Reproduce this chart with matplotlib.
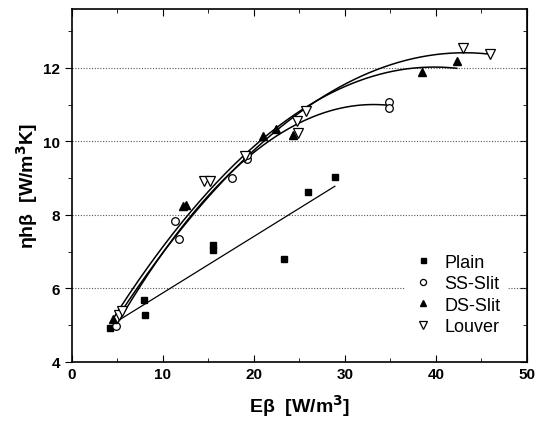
import numpy as np
import matplotlib.pyplot as plt

plt.rcParams['font.family'] = ['Liberation Sans', 'DejaVu Sans']

# measured data points for each fin type
plain_x = [4.2, 7.95, 8.05, 15.5, 15.5, 23.3, 26.0, 28.9]
plain_y = [4.93, 5.68, 5.28, 7.18, 7.05, 6.81, 8.63, 9.04]

ss_x = [4.85, 11.3, 11.8, 17.6, 19.2, 19.2, 34.8, 34.8]
ss_y = [4.98, 7.83, 7.33, 9.0, 9.52, 9.62, 11.07, 10.9]

ds_x = [4.55, 12.2, 12.5, 21.0, 22.4, 24.3, 38.5, 42.3]
ds_y = [5.17, 8.25, 8.27, 10.15, 10.33, 10.18, 11.89, 12.18]

lv_x = [5.2, 5.5, 14.5, 15.2, 19.0, 24.7, 24.9, 25.7, 43.0, 46.0]
lv_y = [5.27, 5.39, 8.93, 8.93, 9.59, 10.54, 10.22, 10.83, 12.55, 12.37]

fig = plt.figure(figsize=(5.37, 4.31), dpi=100)
ax = fig.add_axes([0.134, 0.158, 0.847, 0.819])

ax.plot(plain_x, plain_y, 's', color='black', ms=4.5, label='Plain', zorder=3)
ax.plot(ss_x, ss_y, 'o', mfc='white', mec='black', ms=5.5, mew=0.9, label='SS-Slit', zorder=3)
ax.plot(ds_x, ds_y, '^', color='black', ms=6, label='DS-Slit', zorder=3)
ax.plot(lv_x, lv_y, 'v', mfc='white', mec='black', ms=6.5, mew=0.9, label='Louver', zorder=3)

# linear fit for the plain fin
c = np.polyfit(plain_x, plain_y, 1)
xs = np.linspace(5.3, 28.9, 50)
ax.plot(xs, np.polyval(c, xs), color='black', lw=0.9)

# quadratic fits, first point weighted so the curve starts at it
for xd, yd in [(ss_x, ss_y), (ds_x, ds_y), (lv_x, lv_y)]:
    w = np.ones(len(xd))
    w[0] = 5
    c = np.polyfit(xd, yd, 2, w=w)
    xs = np.linspace(min(xd), max(xd), 200)
    ax.plot(xs, np.polyval(c, xs), color='black', lw=1.1)

ax.set_xlim(0, 50)
ax.set_ylim(4, 13.6)
ax.set_xticks(np.arange(0, 51, 10))
ax.set_xticks(np.arange(5, 50, 10), minor=True)
ax.set_yticks(np.arange(4, 13, 2))
ax.set_yticks(np.arange(5, 14, 2), minor=True)
ax.yaxis.grid(True, which='major', ls=(0, (1, 1.5)), color='#555555', lw=0.8)
ax.set_axisbelow(True)

ax.tick_params(axis='x', which='both', direction='in', top=True, labelsize=11, pad=4)
ax.tick_params(axis='y', which='both', direction='out', labelsize=11)
ax.tick_params(axis='x', which='major', length=5)
ax.tick_params(axis='x', which='minor', length=3)
ax.tick_params(axis='y', which='major', length=5)
ax.tick_params(axis='y', which='minor', length=3)
for lbl in ax.get_xticklabels() + ax.get_yticklabels():
    lbl.set_fontweight('bold')
for s in ax.spines.values():
    s.set_linewidth(1.2)

# inward ticks on the right side
ax2 = ax.secondary_yaxis('right')
ax2.set_yticks(np.arange(4, 13, 2))
ax2.set_yticks(np.arange(5, 14, 2), minor=True)
ax2.tick_params(which='both', direction='in', labelright=False)
ax2.tick_params(which='major', length=5)
ax2.tick_params(which='minor', length=3)

ax.set_xlabel('E\u03b2  [W/m$^\\mathbf{3}$]', fontsize=14, fontweight='bold', labelpad=8)
ax.set_ylabel('\u03b7h\u03b2  [W/m$^\\mathbf{3}$K]', fontsize=14, fontweight='bold', labelpad=2)

leg = ax.legend(loc='lower right', bbox_to_anchor=(0.97, 0.04), frameon=True,
                fontsize=13, handletextpad=0.6, labelspacing=0.25,
                borderaxespad=0.3, handlelength=1.2, markerscale=0.8)
leg.get_frame().set_edgecolor('none')
leg.get_frame().set_facecolor('white')
leg.get_frame().set_alpha(1)

fig.savefig('out.png', dpi=100)
